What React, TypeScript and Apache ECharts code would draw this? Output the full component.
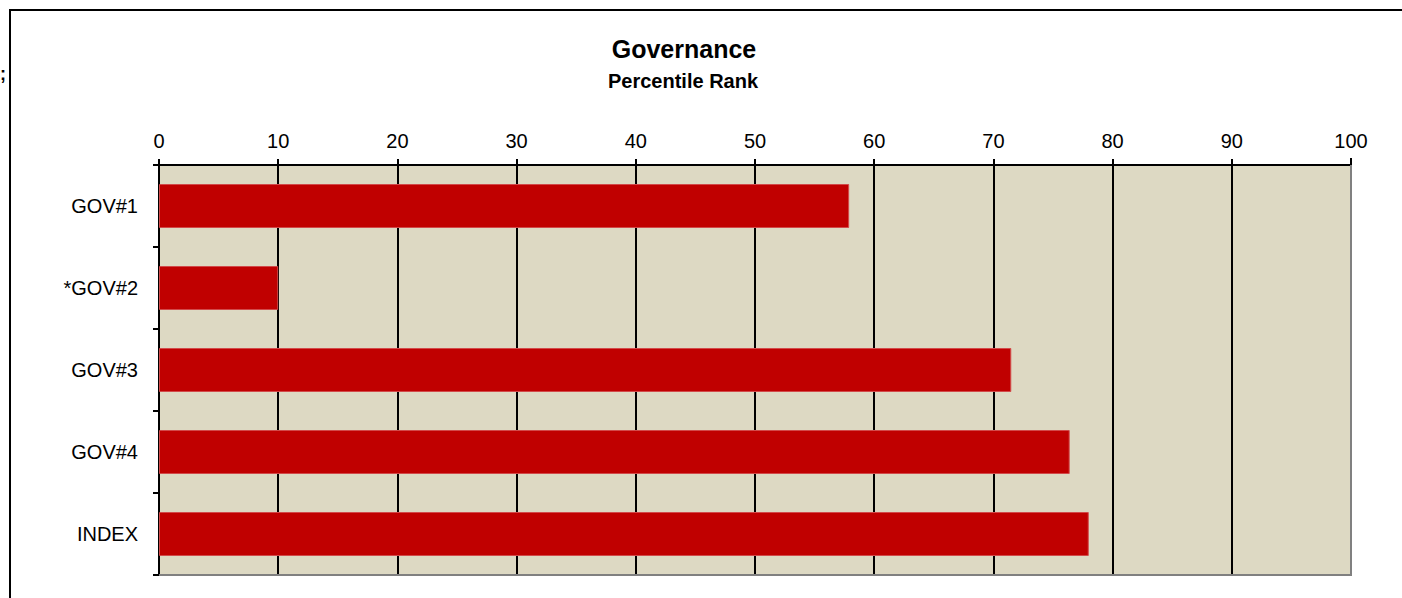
import React, { useEffect, useRef } from "react";
import * as echarts from "echarts";

const categories = ["GOV#1", "*GOV#2", "GOV#3", "GOV#4", "INDEX"];
const values = [57.9, 10.0, 71.5, 76.4, 78.0];
const xTicks = { min: 0, max: 100, interval: 10 };
const titleText = "Governance";
const subtitleText = "Percentile Rank";

const FONT = "Arial, 'Liberation Sans', sans-serif";

export default function App() {
  const ref = useRef<HTMLDivElement>(null);
  useEffect(() => {
    if (!ref.current) return;
    const chart = echarts.init(ref.current, undefined, { renderer: "svg" });
    const L = 159, T = 165, W = 1192, H = 410;
    chart.setOption({
      animation: false,
      backgroundColor: "#ffffff",
      grid: { left: L, top: T, width: W, height: H, show: true, backgroundColor: "#DDD9C3", borderWidth: 0 },
      xAxis: {
        type: "value",
        position: "top",
        min: xTicks.min,
        max: xTicks.max,
        interval: xTicks.interval,
        axisLine: { show: true, lineStyle: { color: "#000", width: 2 } },
        axisTick: { show: true, length: 6, lineStyle: { color: "#000", width: 2 } },
        axisLabel: { color: "#000", fontSize: 20, fontFamily: FONT, margin: 14 },
        splitLine: { show: true, lineStyle: { color: "#000", width: 2 } },
      },
      yAxis: {
        type: "category",
        data: categories,
        inverse: true,
        axisLine: { show: true, lineStyle: { color: "#000", width: 2 } },
        axisTick: { show: true, length: 6, inside: false, lineStyle: { color: "#000", width: 2 } },
        axisLabel: { color: "#000", fontSize: 20, fontFamily: FONT, margin: 21 },
        splitLine: { show: false },
      },
      series: [
        {
          type: "bar",
          data: values,
          barWidth: 44,
          itemStyle: { color: "#C00000", borderColor: "#D24A4A", borderWidth: 1 },
          z: 3,
        },
      ],
      graphic: [
        {
          type: "line",
          z: 100,
          shape: { x1: L + W, y1: T, x2: L + W, y2: T + H },
          style: { stroke: "#808080", lineWidth: 2 },
        },
        {
          type: "line",
          z: 100,
          shape: { x1: L, y1: T + H, x2: L + W + 1, y2: T + H },
          style: { stroke: "#808080", lineWidth: 2 },
        },
        {
          type: "line",
          z: 100,
          shape: { x1: L + W, y1: T - 7, x2: L + W, y2: T },
          style: { stroke: "#000", lineWidth: 2 },
        },
        {
          type: "rect",
          z: 100,
          shape: { x: 10, y: 10, width: 1600, height: 800 },
          style: { fill: "none", stroke: "#000", lineWidth: 2 },
        },
        {
          type: "text",
          z: 100,
          x: 684,
          y: 49,
          style: {
            text: titleText,
            fontSize: 25,
            fontWeight: "bold",
            fontFamily: FONT,
            fill: "#000",
            textAlign: "center",
            textVerticalAlign: "middle",
          },
        },
        {
          type: "text",
          z: 100,
          x: 683,
          y: 81,
          style: {
            text: subtitleText,
            fontSize: 20,
            fontWeight: "bold",
            fontFamily: FONT,
            fill: "#000",
            textAlign: "center",
            textVerticalAlign: "middle",
          },
        },
        {
          type: "text",
          z: 100,
          x: 0,
          y: 74,
          style: {
            text: ";",
            fontSize: 18,
            fontWeight: "bold",
            fontFamily: FONT,
            fill: "#000",
            textAlign: "left",
            textVerticalAlign: "middle",
          },
        },
      ],
    });
    return () => chart.dispose();
  }, []);
  return (
    <div
      ref={ref}
      style={{ position: "fixed", left: 0, top: 0, width: 1402, height: 598 }}
    />
  );
}
